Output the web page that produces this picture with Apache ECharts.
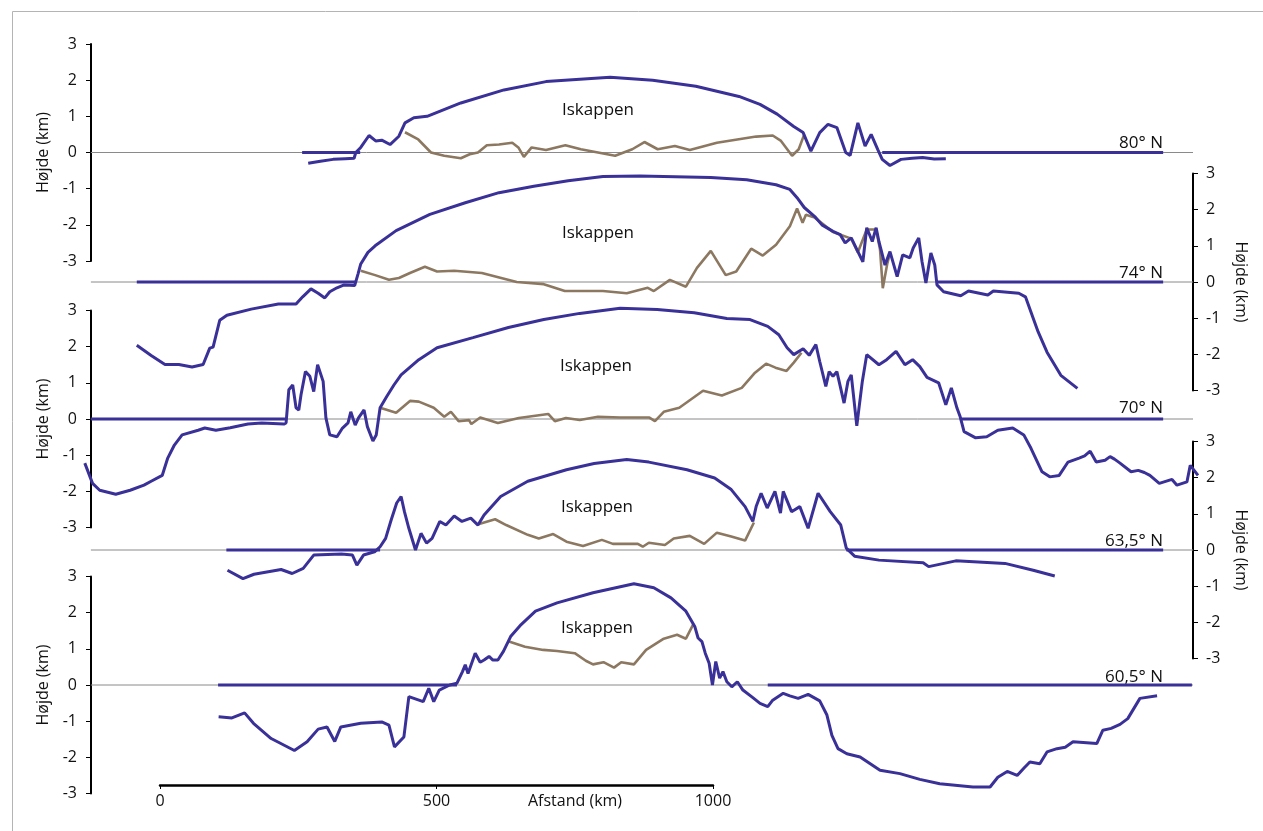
<!DOCTYPE html>
<html><head><meta charset="utf-8">
<script src="https://cdn.jsdelivr.net/npm/echarts@6/dist/echarts.min.js"></script>
<style>html,body{margin:0;padding:0;background:#fff}#c{width:1263px;height:831px}</style>
</head><body><div id="c"></div>
<script>
// ---------- data (distance km, height km) ----------
const panelNames = ['80° N', '74° N', '70° N', '63,5° N', '60,5° N'];
const iceLabel = 'Iskappen';
const yTickRange = [-3, 3];
const distanceTicks = [0, 500, 1000];
const zeroLineSpan = [-125, 1868];

const p1Surface = [[268,-0.30],[290,-0.24],[313,-0.19],[335,-0.17],[351,-0.16],[354,0.0],[363,0.14],[378,0.47],[390,0.32],[401,0.34],[416,0.22],[432,0.45],[443,0.82],[459,0.96],[483,1.00],[544,1.37],[622,1.73],[698,1.96],[814,2.08],[891,2.00],[969,1.83],[1047,1.55],[1085,1.33],[1116,1.06],[1146,0.72],[1163,0.55],[1177,0.04],[1193,0.55],[1208,0.78],[1224,0.69],[1240,0.0],[1248,-0.08],[1262,0.82],[1275,0.18],[1286,0.50],[1298,0.08],[1306,-0.19],[1320,-0.36],[1340,-0.19],[1360,-0.16],[1379,-0.14],[1400,-0.18],[1421,-0.17]];
const p1Bed = [[443,0.56],[467,0.36],[490,0.0],[514,-0.09],[544,-0.16],[560,-0.05],[575,0.0],[591,0.20],[613,0.22],[637,0.27],[648,0.14],[658,-0.12],[672,0.14],[698,0.07],[733,0.20],[761,0.09],[823,-0.09],[854,0.09],[876,0.29],[900,0.09],[931,0.18],[958,0.07],[1007,0.27],[1078,0.44],[1108,0.47],[1123,0.32],[1143,-0.09],[1155,0.09],[1165,0.50]];
const p1Sea = [[[257,0],[362,0]], [[1306,0],[1814,0]]];

const p2Surface = [[-42,-1.75],[-16,-2.03],[9,-2.28],[34,-2.28],[58,-2.35],[78,-2.28],[90,-1.83],[96,-1.80],[108,-1.06],[121,-0.92],[165,-0.75],[214,-0.61],[246,-0.61],[258,-0.41],[273,-0.19],[286,-0.31],[298,-0.44],[307,-0.27],[320,-0.16],[333,-0.08],[352,-0.10],[354,-0.05],[358,0.22],[363,0.50],[376,0.82],[389,1.00],[427,1.42],[488,1.87],[552,2.19],[613,2.47],[676,2.65],[738,2.80],[801,2.92],[868,2.93],[996,2.89],[1061,2.83],[1114,2.69],[1139,2.56],[1152,2.33],[1165,2.06],[1184,1.81],[1197,1.58],[1217,1.40],[1230,1.31],[1239,1.08],[1250,1.22],[1262,0.84],[1271,0.56],[1278,1.50],[1288,1.12],[1295,1.50],[1300,1.12],[1311,0.47],[1320,0.84],[1333,0.15],[1343,0.75],[1356,0.67],[1362,0.94],[1372,1.22],[1378,0.56],[1385,-0.03],[1394,0.80],[1401,0.47],[1405,-0.08],[1417,-0.27],[1448,-0.38],[1462,-0.25],[1497,-0.36],[1507,-0.25],[1553,-0.31],[1565,-0.41],[1579,-1.00],[1588,-1.38],[1604,-1.94],[1629,-2.58],[1659,-2.94]];
const p2Bed = [[363,0.31],[389,0.19],[414,0.06],[432,0.11],[452,0.25],[479,0.42],[501,0.29],[532,0.31],[582,0.25],[645,0.0],[694,-0.06],[732,-0.25],[801,-0.25],[844,-0.31],[882,-0.16],[893,-0.25],[922,0.06],[951,-0.13],[971,0.39],[996,0.86],[1023,0.19],[1042,0.29],[1069,0.92],[1090,0.73],[1114,1.03],[1139,1.54],[1152,2.03],[1162,1.64],[1168,1.86],[1184,1.78],[1217,1.38],[1250,1.20],[1262,0.82],[1278,1.45],[1295,1.45],[1302,0.90],[1307,-0.17],[1315,0.50],[1320,0.80]];
const p2Sea = [[[-42,0],[353,0]], [[1405,0],[1814,0]]];

const p3Surface = [[-136,-1.22],[-122,-1.78],[-109,-1.97],[-80,-2.08],[-54,-1.97],[-29,-1.83],[-16,-1.72],[4,-1.56],[14,-1.08],[26,-0.72],[40,-0.44],[69,-0.31],[81,-0.25],[101,-0.31],[127,-0.24],[159,-0.14],[184,-0.11],[224,-0.14],[228,-0.11],[233,0.81],[240,0.94],[246,0.31],[251,0.25],[255,0.67],[263,1.31],[271,1.18],[278,0.76],[285,1.50],[295,1.04],[300,0.03],[307,-0.44],[320,-0.49],[330,-0.25],[340,-0.11],[345,0.20],[353,-0.17],[359,0.03],[369,0.25],[375,-0.21],[385,-0.61],[391,-0.44],[398,0.31],[410,0.62],[423,0.94],[436,1.22],[468,1.64],[501,1.97],[566,2.25],[630,2.53],[694,2.75],[759,2.92],[832,3.06],[899,3.03],[966,2.94],[1025,2.78],[1067,2.75],[1099,2.56],[1119,2.33],[1134,1.97],[1146,1.78],[1163,1.94],[1174,1.76],[1186,2.06],[1193,1.59],[1204,0.90],[1210,1.31],[1217,1.18],[1224,1.31],[1237,0.44],[1244,1.04],[1250,1.22],[1260,-0.19],[1270,1.04],[1278,1.78],[1300,1.50],[1314,1.64],[1331,1.87],[1347,1.50],[1361,1.64],[1374,1.45],[1387,1.15],[1408,1.00],[1421,0.39],[1431,0.86],[1441,0.31],[1447,0.06],[1454,-0.35],[1475,-0.52],[1495,-0.49],[1515,-0.31],[1542,-0.25],[1562,-0.44],[1575,-0.81],[1595,-1.46],[1609,-1.60],[1626,-1.56],[1642,-1.19],[1662,-1.08],[1672,-1.02],[1682,-0.89],[1693,-1.19],[1709,-1.14],[1718,-1.04],[1726,-1.11],[1736,-1.22],[1756,-1.46],[1769,-1.42],[1780,-1.48],[1790,-1.56],[1807,-1.78],[1830,-1.67],[1839,-1.83],[1857,-1.74],[1863,-1.28],[1877,-1.56]];
const p3Bed = [[398,0.31],[427,0.17],[452,0.50],[468,0.48],[495,0.31],[514,0.06],[526,0.20],[540,-0.06],[559,-0.03],[563,-0.14],[579,0.04],[611,-0.11],[649,0.03],[702,0.14],[714,-0.06],[734,0.03],[759,-0.03],[792,0.06],[832,0.04],[885,0.04],[895,-0.06],[911,0.20],[939,0.31],[982,0.78],[1016,0.65],[1052,0.86],[1076,1.28],[1096,1.53],[1113,1.42],[1133,1.33],[1146,1.56],[1160,1.83]];
const p3Sea = [[[-125,0],[226,0]], [[1448,0],[1814,0]]];

const p4Surface = [[122,-0.56],[150,-0.79],[170,-0.67],[219,-0.54],[239,-0.65],[259,-0.51],[278,-0.14],[328,-0.11],[348,-0.14],[356,-0.42],[368,-0.14],[388,-0.05],[398,0.09],[408,0.32],[418,0.83],[428,1.30],[436,1.48],[442,1.06],[450,0.60],[462,0.0],[472,0.46],[482,0.19],[492,0.32],[506,0.79],[517,0.69],[532,0.94],[546,0.79],[562,0.88],[575,0.69],[586,0.97],[616,1.48],[665,1.90],[735,2.22],[785,2.39],[844,2.50],[884,2.43],[953,2.22],[1003,1.99],[1033,1.67],[1058,1.20],[1072,0.79],[1078,1.20],[1087,1.57],[1098,1.16],[1112,1.62],[1122,1.02],[1127,1.62],[1142,1.06],[1157,1.20],[1172,0.60],[1190,1.57],[1212,1.06],[1231,0.69],[1241,0.05],[1256,-0.17],[1300,-0.28],[1380,-0.35],[1390,-0.46],[1439,-0.30],[1528,-0.37],[1579,-0.56],[1618,-0.72]];
const p4Bed = [[577,0.72],[606,0.85],[626,0.69],[665,0.42],[685,0.32],[711,0.44],[735,0.23],[765,0.11],[799,0.28],[819,0.17],[864,0.17],[873,0.09],[884,0.20],[913,0.14],[929,0.32],[958,0.39],[984,0.17],[1007,0.48],[1033,0.37],[1058,0.26],[1074,0.76]];
const p4Sea = [[[120,0],[398,0]], [[1241,0],[1814,0]]];

const p5Surface = [[106,-0.88],[130,-0.91],[153,-0.77],[169,-1.06],[201,-1.48],[243,-1.81],[266,-1.57],[286,-1.22],[302,-1.16],[316,-1.56],[327,-1.16],[363,-1.06],[401,-1.02],[414,-1.11],[424,-1.71],[441,-1.44],[450,-0.32],[476,-0.46],[486,-0.09],[495,-0.46],[505,-0.14],[524,0.0],[537,0.05],[547,0.37],[552,0.56],[557,0.32],[570,0.88],[579,0.63],[586,0.69],[595,0.79],[602,0.69],[611,0.69],[621,0.93],[634,1.34],[653,1.67],[679,2.04],[718,2.27],[783,2.55],[857,2.80],[893,2.69],[924,2.41],[951,2.04],[967,1.62],[973,1.30],[980,1.20],[986,0.88],[993,0.60],[999,0.0],[1005,0.65],[1012,0.19],[1018,0.37],[1025,0.09],[1034,-0.05],[1044,0.09],[1054,-0.14],[1072,-0.35],[1085,-0.51],[1099,-0.60],[1108,-0.42],[1127,-0.23],[1139,-0.30],[1154,-0.37],[1172,-0.26],[1193,-0.44],[1206,-0.83],[1215,-1.39],[1226,-1.76],[1242,-1.90],[1266,-1.99],[1302,-2.36],[1338,-2.45],[1374,-2.61],[1410,-2.73],[1470,-2.82],[1501,-2.82],[1515,-2.55],[1532,-2.39],[1550,-2.50],[1562,-2.30],[1573,-2.13],[1591,-2.18],[1604,-1.85],[1622,-1.76],[1637,-1.72],[1651,-1.57],[1694,-1.62],[1705,-1.25],[1720,-1.20],[1736,-1.09],[1750,-0.93],[1772,-0.37],[1803,-0.30]];
const p5Bed = [[631,1.20],[660,1.06],[693,0.97],[718,0.94],[750,0.88],[770,0.67],[783,0.57],[802,0.63],[821,0.48],[834,0.63],[857,0.57],[879,0.97],[911,1.28],[935,1.39],[951,1.28],[964,1.67]];
const p5Sea = [[[105,0],[537,0]], [[1099,0],[1866,0]]];

const surfaces = [p1Surface, p2Surface, p3Surface, p4Surface, p5Surface];
const beds = [p1Bed, p2Bed, p3Bed, p4Bed, p5Bed];
const seas = [p1Sea, p2Sea, p3Sea, p4Sea, p5Sea];

// ---------- layout / style ----------
const BLUE = '#3a3198', BROWN = '#8c7860', FONT = 'Open Sans';
const xMin = -140, xMax = 1890;
const gridLeft = 82.58, gridWidth = 1122.6;
const tops = [44, 173.5, 310.5, 441.5, 576.5];
const H = 217;
const sides = ['left', 'right', 'left', 'right', 'left'];

const grids = [], xAxes = [], yAxes = [], series = [], graphics = [];
for (let i = 0; i < 5; i++) {
  grids.push({left: gridLeft, width: gridWidth, top: tops[i], height: H});
  xAxes.push({gridIndex: i, type: 'value', min: xMin, max: xMax, show: false});
  const left = sides[i] === 'left';
  yAxes.push({
    gridIndex: i, type: 'value', min: yTickRange[0], max: yTickRange[1], interval: 1,
    position: sides[i], offset: left ? -8.42 : -12.17,
    name: 'Højde (km)', nameLocation: 'middle', nameGap: left ? 38 : 40,
    nameRotate: left ? 90 : -90,
    nameTextStyle: {fontFamily: FONT, fontSize: 16, color: '#111'},
    axisLine: {show: true, onZero: false, lineStyle: {color: '#000', width: 2}},
    axisTick: {show: true, inside: false, length: 5, lineStyle: {color: '#000', width: 1}},
    axisLabel: {fontFamily: FONT, fontSize: 16, color: '#111', margin: left ? 14 : 13},
    splitLine: {show: false}
  });
  series.push({type: 'line', xAxisIndex: i, yAxisIndex: i, data: zeroLineSpan.map(v => [v, 0]),
    symbol: 'none', lineStyle: {color: '#8a8a8a', width: 1}, z: 1, silent: true});
  series.push({type: 'line', xAxisIndex: i, yAxisIndex: i, data: beds[i], symbol: 'none',
    lineStyle: {color: BROWN, width: 2.6}, z: 2});
  series.push({type: 'line', xAxisIndex: i, yAxisIndex: i, data: surfaces[i], symbol: 'none',
    lineStyle: {color: BLUE, width: 3}, z: 3, clip: false});
  seas[i].forEach(seg => series.push({type: 'line', xAxisIndex: i, yAxisIndex: i, data: seg,
    symbol: 'none', lineStyle: {color: BLUE, width: 3}, z: 3}));
}
// bottom distance axis
grids.push({left: 160, width: 553, top: 700, height: 85});
xAxes.push({gridIndex: 5, type: 'value', min: distanceTicks[0], max: distanceTicks[distanceTicks.length - 1],
  interval: distanceTicks[1] - distanceTicks[0],
  axisLine: {show: true, onZero: false, lineStyle: {color: '#000', width: 2.5}},
  axisTick: {show: true, length: 4, lineStyle: {color: '#000', width: 1}},
  axisLabel: {fontFamily: FONT, fontSize: 16, color: '#111', margin: 8, formatter: v => String(v)},
  splitLine: {show: false}});
yAxes.push({gridIndex: 5, type: 'value', show: false});

const iceLabelPos = [[598,110],[598,233],[596,366],[597,507],[597,628]];
const latLabelPos = [[1163,143],[1163,273],[1163,408],[1163,541],[1163,677]];
for (let i = 0; i < 5; i++) {
  graphics.push({type: 'text', x: iceLabelPos[i][0], y: iceLabelPos[i][1],
    style: {text: iceLabel, fontFamily: FONT, fontSize: 17, fill: '#111', textAlign: 'center', textVerticalAlign: 'middle'}});
  graphics.push({type: 'text', x: latLabelPos[i][0], y: latLabelPos[i][1],
    style: {text: panelNames[i], fontFamily: FONT, fontSize: 17, fill: '#111', textAlign: 'right', textVerticalAlign: 'middle'}});
}
graphics.push({type: 'text', x: 575, y: 801,
  style: {text: 'Afstand (km)', fontFamily: FONT, fontSize: 16, fill: '#111', textAlign: 'center', textVerticalAlign: 'middle'}});
graphics.push({type: 'rect', shape: {x: 12.5, y: 11.5, width: 1300, height: 900}, silent: true,
  style: {fill: 'none', stroke: '#b4b4b4', lineWidth: 1}, z: -10});

const chart = echarts.init(document.getElementById('c'), null, {renderer: 'canvas'});
chart.setOption({
  animation: false, backgroundColor: '#fff',
  grid: grids, xAxis: xAxes, yAxis: yAxes, series: series, graphic: graphics
});
</script></body></html>
